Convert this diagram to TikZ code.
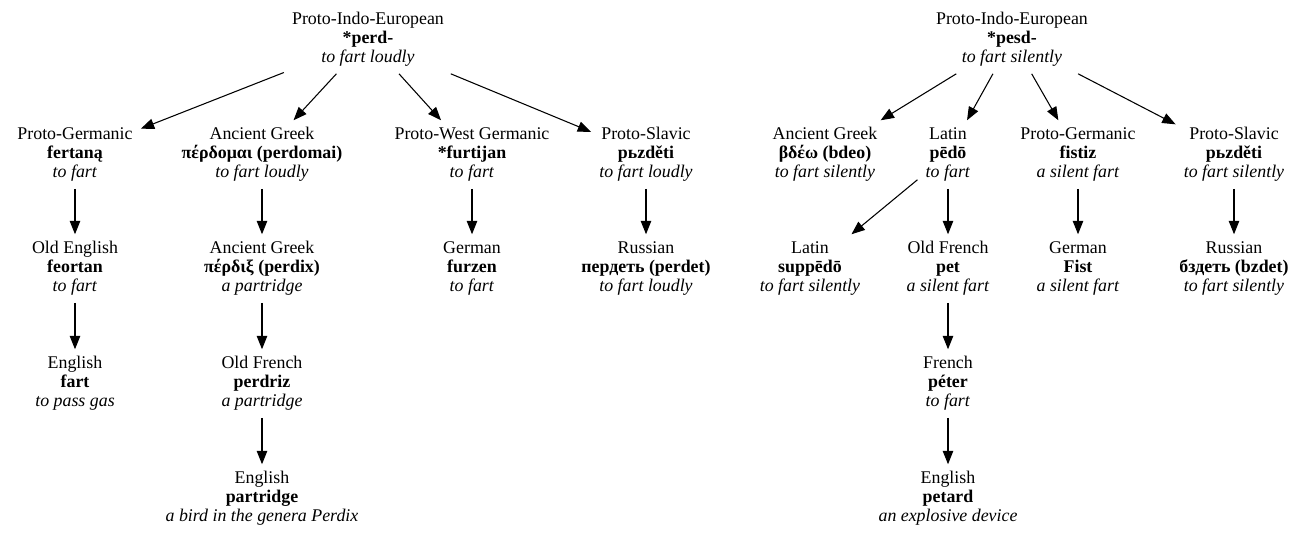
\documentclass[tikz,border=0pt]{standalone}
\usepackage{fontspec}
\setmainfont{Liberation Serif}
\usetikzlibrary{arrows.meta}
\newcommand{\etym}[3]{\strut#1\\\strut\textbf{#2}\\\strut\textit{#3}}
\tikzset{
  lang/.style={align=center, font=\fontsize{13.4}{14.25}\selectfont,
    inner xsep=6pt, inner ysep=0pt, minimum height=51pt, yshift=-1.9pt},
  deriv/.style={-{Triangle[length=10pt,width=7.8pt]}, line width=0.8pt}
}
\begin{document}
\begin{tikzpicture}[x=0.75pt,y=-0.75pt]
\useasboundingbox[fill=white] (0,0) rectangle (1307,536);
% left tree
\node[lang] (pie1) at (368,37) {\etym{Proto-Indo-European}{*perd-}{to fart loudly}};
\node[lang] (pg1) at (75,152) {\etym{Proto-Germanic}{fertaną}{to fart}};
\node[lang] (ag1) at (262,152) {\etym{Ancient Greek}{πέρδομαι (perdomai)}{to fart loudly}};
\node[lang] (pwg) at (472,152) {\etym{Proto-West Germanic}{*furtijan}{to fart}};
\node[lang] (ps1) at (646,152) {\etym{Proto-Slavic}{pьzděti}{to fart loudly}};
\node[lang] (oe) at (75,266) {\etym{Old English}{feortan}{to fart}};
\node[lang] (ag2) at (262,266) {\etym{Ancient Greek}{πέρδιξ (perdix)}{a partridge}};
\node[lang] (de1) at (472,266) {\etym{German}{furzen}{to fart}};
\node[lang] (ru1) at (646,266) {\etym{Russian}{пердеть (perdet)}{to fart loudly}};
\node[lang] (en1) at (75,381) {\etym{English}{fart}{to pass gas}};
\node[lang] (of1) at (262,381) {\etym{Old French}{perdriz}{a partridge}};
\node[lang] (en2) at (262,496) {\etym{English}{partridge}{a bird in the genera Perdix}};
% right tree
\node[lang] (pie2) at (1012,37) {\etym{Proto-Indo-European}{*pesd-}{to fart silently}};
\node[lang] (ag3) at (825,152) {\etym{Ancient Greek}{βδέω (bdeo)}{to fart silently}};
\node[lang] (la1) at (948,152) {\etym{Latin}{pēdō}{to fart}};
\node[lang] (pg2) at (1078,152) {\etym{Proto-Germanic}{fistiz}{a silent fart}};
\node[lang] (ps2) at (1234,152) {\etym{Proto-Slavic}{pьzděti}{to fart silently}};
\node[lang] (la2) at (810,266) {\etym{Latin}{suppēdō}{to fart silently}};
\node[lang] (of2) at (948,266) {\etym{Old French}{pet}{a silent fart}};
\node[lang] (de2) at (1078,266) {\etym{German}{Fist}{a silent fart}};
\node[lang] (ru2) at (1234,266) {\etym{Russian}{бздеть (bzdet)}{to fart silently}};
\node[lang] (fr) at (948,381) {\etym{French}{péter}{to fart}};
\node[lang] (en3) at (948,496) {\etym{English}{petard}{an explosive device}};
% edges
\draw[deriv] (pie1) -- (pg1);
\draw[deriv] (pie1) -- (ag1);
\draw[deriv] (pie1) -- (pwg);
\draw[deriv] (pie1) -- (ps1);
\draw[deriv] (pg1) -- (oe);
\draw[deriv] (oe) -- (en1);
\draw[deriv] (ag1) -- (ag2);
\draw[deriv] (ag2) -- (of1);
\draw[deriv] (of1) -- (en2);
\draw[deriv] (pwg) -- (de1);
\draw[deriv] (ps1) -- (ru1);
\draw[deriv] (pie2) -- (ag3);
\draw[deriv] (pie2) -- (la1);
\draw[deriv] (pie2) -- (pg2);
\draw[deriv] (pie2) -- (ps2);
\draw[deriv] (la1) -- (la2);
\draw[deriv] (la1) -- (of2);
\draw[deriv] (of2) -- (fr);
\draw[deriv] (fr) -- (en3);
\draw[deriv] (pg2) -- (de2);
\draw[deriv] (ps2) -- (ru2);
\end{tikzpicture}
\end{document}
